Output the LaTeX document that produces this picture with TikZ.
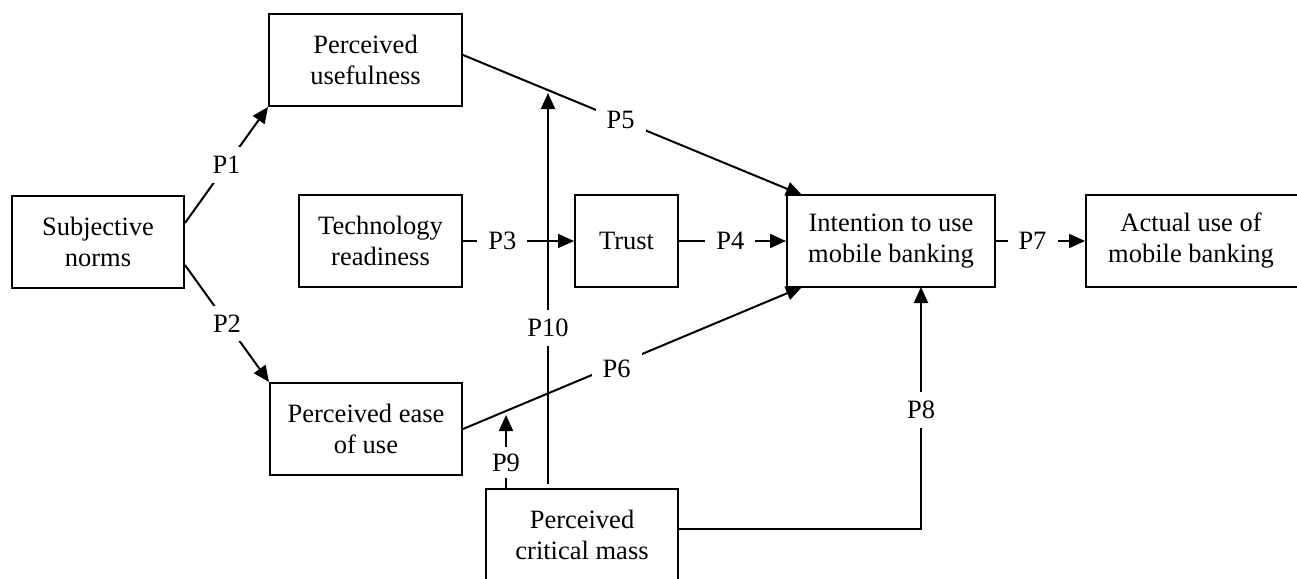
\documentclass[tikz,border=0pt]{standalone}
\usepackage{fontspec}
\setmainfont{Liberation Serif}
\usetikzlibrary{arrows.meta,calc}
\begin{document}
\begin{tikzpicture}[x=1pt,y=-1pt,
  font=\fontsize{26.5}{31}\selectfont,
  box/.style={draw,line width=2pt,rectangle,inner sep=0pt,align=center,minimum height=92pt},
  lab/.style={fill=white,inner xsep=11pt,inner ysep=9pt},
  con/.style={line width=2pt},
  arr/.style={line width=2pt,-{Triangle[length=16pt,width=14pt]}}]
\useasboundingbox (0,0) rectangle (1297,578);
\clip (0,0) rectangle (1297,578);
\fill[white] (0,0) rectangle (1297,578);
% boxes
\node[box,minimum width=172pt] (SN) at (98,242) {Subjective\\norms};
\node[box,minimum width=193pt] (PU) at (365.5,60) {Perceived\\usefulness};
\node[box,minimum width=163pt] (TR) at (380.5,241) {Technology\\readiness};
\node[box,minimum width=103pt] (TRU) at (626.5,241) {Trust};
\node[box,minimum width=208pt] (IU) at (891,241) {Intention to use\\mobile banking};
\node[box,minimum width=225pt] (AU) at (1198.5,241) {};
\node[align=center,inner sep=0pt] (AUtext) at (1191,241) {Actual use of\\mobile banking};
\node[box,minimum width=192pt] (PEU) at (366,429) {Perceived ease\\of use};
\node[box,minimum width=192pt] (PCM) at (582,535) {Perceived\\critical mass};
% targets on other connectors
\coordinate (p9tip) at (506,415);
\coordinate (p10tip) at (548,93);
\coordinate (p10base) at (548,484);
\coordinate (p5tip) at (802,195);
\coordinate (p6tip) at (802,287);
\coordinate (p8tip) at (921,287);
% connectors
\draw[arr] ($(SN.east)+(0,-19)$) -- node[lab] {P1} (PU.south west);
\draw[arr] ($(SN.east)+(0,23)$) -- node[lab,pos=0.5] {P2} (PEU.north west);
\draw[arr] (PCM.north -| p9tip) -- node[lab,pos=0.35,inner ysep=7pt] {P9} (p9tip);
\draw[arr] (p10base) -- node[lab,pos=0.40,inner xsep=4pt] {P10} (p10tip);
\draw[arr] (TR.east) -- node[lab,pos=0.354] {P3} (TRU.west);
\draw[arr] (TRU.east) -- node[lab,pos=0.48] {P4} (IU.west);
\draw[arr] (IU.east) -- node[lab,pos=0.41] {P7} (AU.west);
\draw[arr] ($(PU.east)+(0,-5)$) -- node[lab,pos=0.465] {P5} (p5tip);
\draw[arr] (PEU.east) -- node[lab,pos=0.453,yshift=-4pt] {P6} (p6tip);
\draw[arr] ($(PCM.east)+(0,-6)$) -| node[lab,pos=0.746] {P8} (p8tip);
\end{tikzpicture}
\end{document}
